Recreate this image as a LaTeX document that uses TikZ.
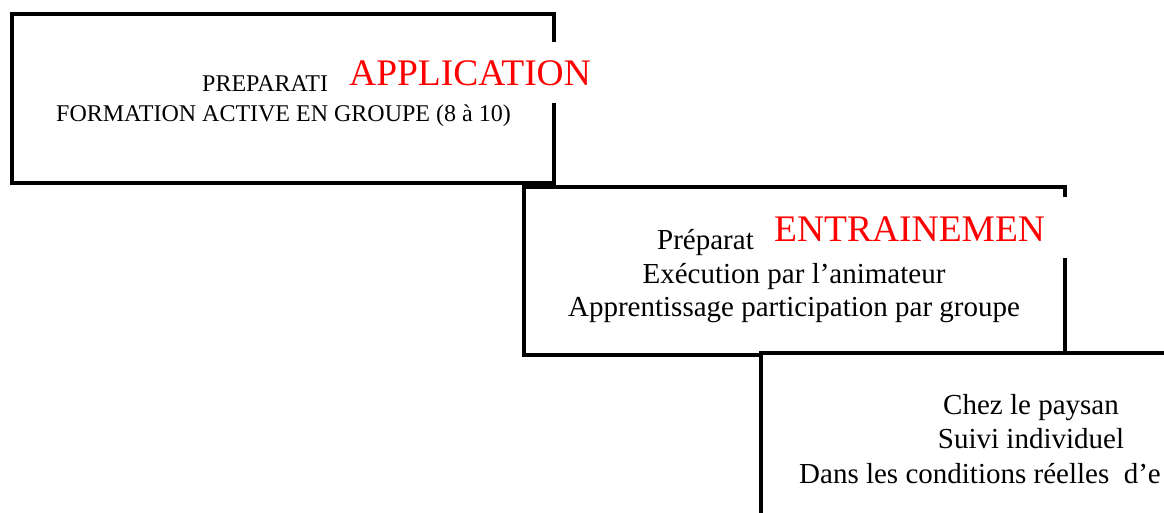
\documentclass[tikz,border=0pt]{standalone}
\usepackage{fontspec}
\setmainfont{Liberation Serif}

\begin{document}
\begin{tikzpicture}[%
        x = 1pt,
        y = -1pt,
        bloc/.style = {draw, line width = 4pt, fill = white, inner sep = 0pt},
        petit/.style = {inner sep = 0pt, font = \fontsize{24}{30}\selectfont},
        ligne/.style = {inner sep = 0pt, font = \fontsize{29}{34}\selectfont},
        titre/.style = {%
            anchor = base west, fill = white, text = red,
            inner sep = 0pt, text width = 300pt, align = left,
            text height = 44pt, text depth = 17pt,
            font = \fontsize{37.5}{44}\selectfont}
    ]

        % Frame of the picture.
        \useasboundingbox (0, 0) rectangle (1164, 513);
        \clip (0, 0) rectangle (1164, 513);

        % The three steps, one below the other.
        \node[bloc, minimum width = 542pt, minimum height = 169pt] (app) at (283, 98.5) {};
        \node[bloc, minimum width = 541pt, minimum height = 168pt] (ent) at (794.5, 271) {};
        \node[bloc, minimum width = 539pt, minimum height = 168pt] (pay) at (1030.5, 437) {};

        % First step.
        \node[petit, anchor = base west] (app1) at (202, 92) {PREPARATI};
        \node[petit, anchor = base] (app2) at (283.5, 122) {FORMATION ACTIVE EN GROUPE (8 à 10)};
        \node[titre] (appT) at (349, 86) {APPLICATION};

        % Second step.
        \node[ligne, anchor = base west] (ent1) at (657, 249) {Préparat};
        \node[ligne, anchor = base] (ent2) at (794, 283) {Exécution par l’animateur};
        \node[ligne, anchor = base] (ent3) at (794, 316) {Apprentissage participation par groupe};
        \node[titre] (entT) at (774, 241) {ENTRAINEMEN};

        % Third step.
        \node[ligne, anchor = base] (pay1) at (1031, 414) {Chez le paysan};
        \node[ligne, anchor = base] (pay2) at (1031, 448) {Suivi individuel};
        \node[ligne, anchor = base west] (pay3) at (799, 483) {Dans les conditions réelles\ \ d’e};
    \end{tikzpicture}
\end{document}
